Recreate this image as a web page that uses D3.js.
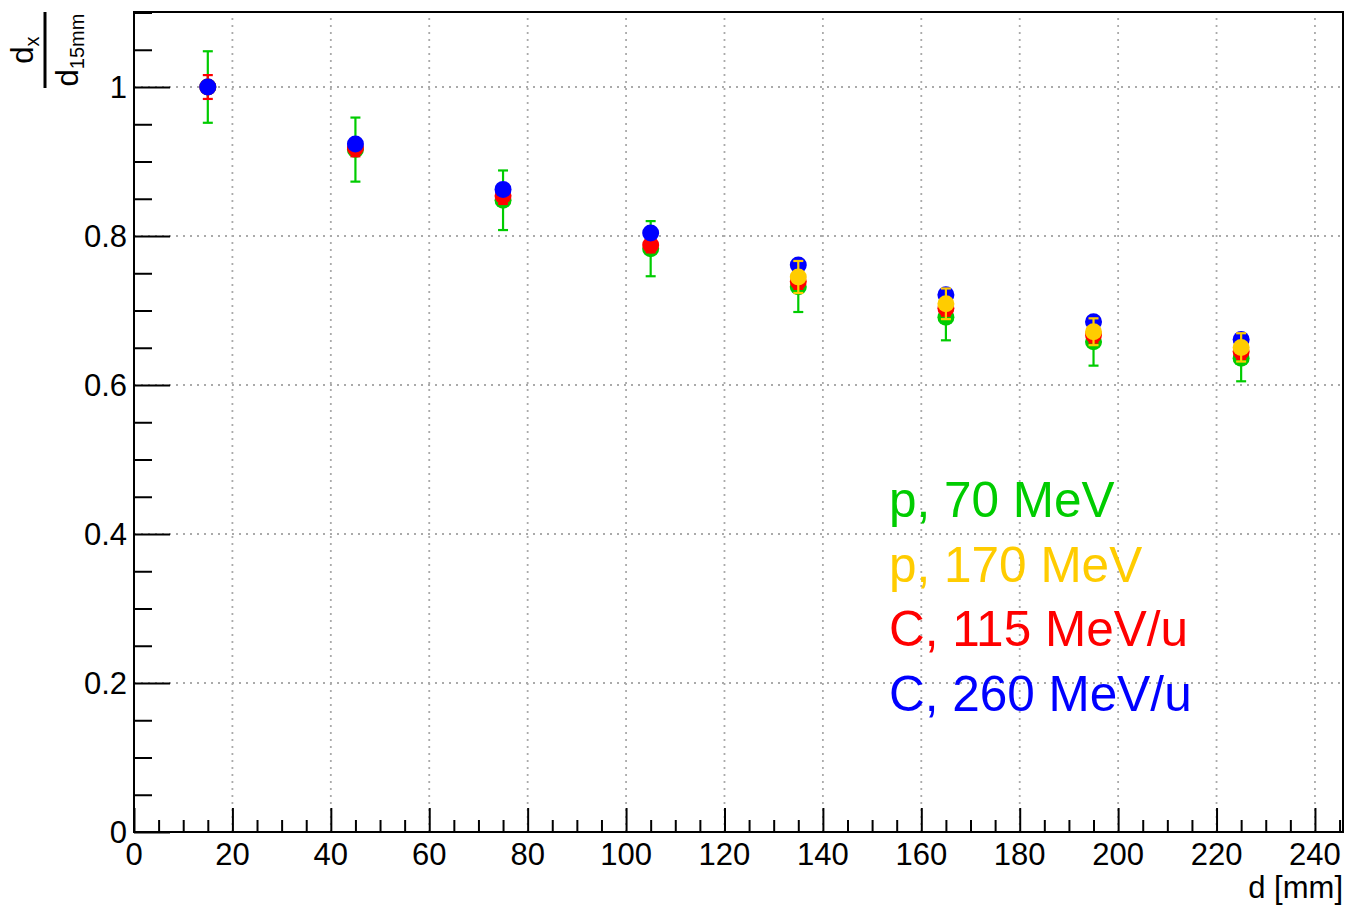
<!DOCTYPE html>
<html>
<head>
<meta charset="utf-8">
<script src="https://cdn.jsdelivr.net/npm/d3@7"></script>
<style>
  body { margin: 0; background: #fff; }
  svg { display: block; font-family: "Liberation Sans", Arial, Helvetica, sans-serif; }
</style>
</head>
<body>
<script>
// depth positions [mm]
var depths = [15, 45, 75, 105, 135, 165, 195, 225];
var depthsHigh = [135, 165, 195, 225];

// relative width d_x / d_15mm per beam, with errors
var p70 = [1.0, 0.916, 0.848, 0.783, 0.732, 0.691, 0.658, 0.636];
var p70Err = [0.048, 0.043, 0.040, 0.037, 0.034, 0.031, 0.032, 0.031];
var c115 = [1.0, 0.918, 0.854, 0.788, 0.739, 0.703, 0.667, 0.645];
var c115Err = [0.016, 0.011, 0.011, 0.010, 0.010, 0.010, 0.010, 0.010];
var c260 = [1.0, 0.9235, 0.8626, 0.804, 0.761, 0.721, 0.685, 0.661];
var c260Err = [0.003, 0.004, 0.004, 0.004, 0.004, 0.004, 0.004, 0.004];
var p170 = [0.745, 0.709, 0.6715, 0.6505];
var p170Err = [0.0215, 0.0206, 0.018, 0.019];

var xTicks = [0, 20, 40, 60, 80, 100, 120, 140, 160, 180, 200, 220, 240];
var yTicks = [0, 0.2, 0.4, 0.6, 0.8, 1];
var legendLabels = ["p, 70 MeV", "p, 170 MeV", "C, 115 MeV/u", "C, 260 MeV/u"];

var width = 1345, height = 906;
var margin = {left: 134, top: 12, right: 2, bottom: 74};

var svg = d3.select("body").append("svg")
    .attr("width", width)
    .attr("height", height);

var x = d3.scaleLinear().domain([0, 245.7]).range([margin.left, width - margin.right]);
var y = d3.scaleLinear().domain([0, 1.1007]).range([height - margin.bottom, margin.top]);

var x0 = x.range()[0], x1 = x.range()[1];
var y0 = y.range()[0], y1 = y.range()[1];

// grid
var grid = svg.append("g").attr("class", "grid")
    .attr("stroke", "#aaaaaa")
    .attr("stroke-width", 1.8)
    .attr("stroke-dasharray", "2,5");
grid.selectAll("line.gx")
    .data(xTicks.filter(function (d) { return d > 0; }))
    .enter().append("line")
    .attr("x1", function (d) { return x(d); })
    .attr("x2", function (d) { return x(d); })
    .attr("y1", y0).attr("y2", y1);
grid.selectAll("line.gy")
    .data(yTicks.filter(function (d) { return d > 0; }))
    .enter().append("line")
    .attr("y1", function (d) { return y(d); })
    .attr("y2", function (d) { return y(d); })
    .attr("x1", x0).attr("x2", x1);

// axes
var xAxis = d3.axisBottom(x).tickValues(d3.range(0, 246, 5))
    .tickSize(-12).tickFormat("");
var gx = svg.append("g").attr("transform", "translate(0," + y0 + ")").call(xAxis);
gx.selectAll(".tick line")
    .attr("y2", function (d) { return d % 20 === 0 ? -24 : -12; });

var yAxis = d3.axisLeft(y).tickValues(d3.range(0, 1.1001, 0.05))
    .tickSize(-18).tickFormat("");
var gy = svg.append("g").attr("transform", "translate(" + x0 + ",0)").call(yAxis);
gy.selectAll(".tick line")
    .attr("x2", function (d) { return Math.abs(Math.round(d * 100) % 20) === 0 ? 36 : 18; });

[gx, gy].forEach(function (g) {
    g.select(".domain").remove();
    g.selectAll(".tick line").attr("stroke", "#000").attr("stroke-width", 2);
});

svg.append("g").selectAll("text")
    .data(xTicks).enter().append("text")
    .attr("x", function (d) { return x(d); })
    .attr("y", 865)
    .attr("text-anchor", "middle")
    .attr("font-size", 31)
    .text(function (d) { return d; });

svg.append("g").selectAll("text")
    .data(yTicks).enter().append("text")
    .attr("x", 127)
    .attr("y", function (d) { return y(d) + 11; })
    .attr("text-anchor", "end")
    .attr("font-size", 31)
    .text(function (d) { return d3.format("~g")(d); });

// frame
svg.append("rect")
    .attr("x", x0).attr("y", y1)
    .attr("width", x1 - x0).attr("height", y0 - y1)
    .attr("fill", "none").attr("stroke", "#000").attr("stroke-width", 2);

// axis titles
svg.append("text")
    .attr("x", 1343).attr("y", 898)
    .attr("text-anchor", "end")
    .attr("font-size", 31)
    .text("d [mm]");

var yt = svg.append("g").attr("transform", "translate(45,50) rotate(-90)");
yt.append("line")
    .attr("x1", -38).attr("x2", 38).attr("y1", 0).attr("y2", 0)
    .attr("stroke", "#000").attr("stroke-width", 3);
var num = yt.append("text").attr("x", 0).attr("y", -12)
    .attr("text-anchor", "middle").attr("font-size", 31);
num.append("tspan").text("d");
num.append("tspan").attr("font-size", 20).attr("dy", 6).text("x");
var den = yt.append("text").attr("x", 0).attr("y", 33)
    .attr("text-anchor", "middle").attr("font-size", 31);
den.append("tspan").text("d");
den.append("tspan").attr("font-size", 20).attr("dy", 6).text("15mm");

// series
var series = [
    {xs: depths, ys: p70, err: p70Err, color: "#00cc00"},
    {xs: depths, ys: c115, err: c115Err, color: "#ff0000"},
    {xs: depths, ys: c260, err: c260Err, color: "#0000ff"},
    {xs: depthsHigh, ys: p170, err: p170Err, color: "#ffcc00"}
];

series.forEach(function (s) {
    var pts = s.xs.map(function (d, i) { return {x: d, y: s.ys[i], e: s.err[i]}; });
    var g = svg.append("g");
    var eb = g.selectAll("g.eb").data(pts).enter().append("g")
        .attr("stroke", s.color).attr("stroke-width", 2.2);
    eb.append("line")
        .attr("x1", function (d) { return x(d.x); })
        .attr("x2", function (d) { return x(d.x); })
        .attr("y1", function (d) { return y(d.y - d.e); })
        .attr("y2", function (d) { return y(d.y + d.e); });
    [-1, 1].forEach(function (sgn) {
        eb.append("line")
            .attr("x1", function (d) { return x(d.x) - 5; })
            .attr("x2", function (d) { return x(d.x) + 5; })
            .attr("y1", function (d) { return y(d.y + sgn * d.e); })
            .attr("y2", function (d) { return y(d.y + sgn * d.e); });
    });
    g.selectAll("circle").data(pts).enter().append("circle")
        .attr("cx", function (d) { return x(d.x); })
        .attr("cy", function (d) { return y(d.y); })
        .attr("r", 8.5)
        .attr("fill", s.color);
});

// legend
var legendColors = ["#00cc00", "#ffcc00", "#ff0000", "#0000ff"];
svg.append("g").selectAll("text")
    .data(legendLabels).enter().append("text")
    .attr("x", 889)
    .attr("y", function (d, i) { return 517 + i * 64.5; })
    .attr("font-size", 49.5)
    .attr("fill", function (d, i) { return legendColors[i]; })
    .text(function (d) { return d; });
</script>
</body>
</html>
